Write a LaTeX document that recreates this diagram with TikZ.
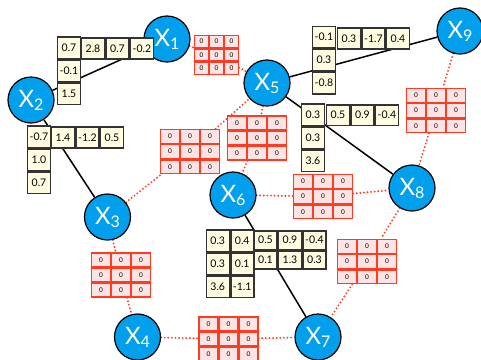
\documentclass[tikz,border=0pt]{standalone}
\usepackage{fontspec}
\setmainfont{Lato}
\usetikzlibrary{matrix,backgrounds}

\definecolor{nodeblue}{HTML}{02A0EC}
\definecolor{cptfill}{HTML}{FFFCE1}
\definecolor{cptline}{HTML}{333333}
\definecolor{msgred}{HTML}{FF3B22}
\definecolor{msgfill}{HTML}{FDE4E4}

\newcommand\varlabel[1]{{\fontsize{24}{24}\selectfont X}\raisebox{-3pt}{\fontsize{16}{16}\selectfont #1}}

\tikzset{
  var/.style={circle, draw=black, line width=1.2pt, fill=nodeblue,
    minimum size=46pt, inner sep=0pt, text=white},
  cpt/.style={matrix of nodes, inner sep=0pt, outer sep=0pt,
    column sep=0pt, row sep=0pt,
    nodes={draw=cptline, line width=1.5pt, fill=cptfill,
      minimum width=23pt, minimum height=21.5pt, inner sep=0pt, outer sep=0pt,
      font=\fontsize{10.5}{10.5}\selectfont, anchor=center}},
  msg/.style={matrix of nodes, inner sep=0pt, outer sep=0pt,
    column sep=0pt, row sep=0pt,
    nodes={draw=msgred, line width=1.4pt, fill=msgfill,
      minimum width=18.7pt, minimum height=13.8pt, inner sep=0pt, outer sep=0pt,
      font=\fontsize{6.5}{6.5}\selectfont, anchor=center}},
  msgsmall/.style={msg, nodes={minimum width=13.7pt, minimum height=12pt}},
  link/.style={line width=1.5pt, black},
  dotlink/.style={msgred, line width=2.1pt, line cap=round, dash pattern=on 0pt off 3.6pt},
}

\begin{document}
\begin{tikzpicture}[x=1pt, y=-1pt]
\useasboundingbox (0,0) rectangle (481,359);
\clip (0,0) rectangle (481,359);

% variables
\node[var] (x1) at (167,39)    {\varlabel{1}};
\node[var] (x2) at (31,100)    {\varlabel{2}};
\node[var] (x3) at (107.5,217) {\varlabel{3}};
\node[var] (x4) at (137.5,337) {\varlabel{4}};
\node[var] (x5) at (267,83)    {\varlabel{5}};
\node[var] (x6) at (233,195)   {\varlabel{6}};
\node[var] (x7) at (318,337)   {\varlabel{7}};
\node[var] (x8) at (412,188)   {\varlabel{8}};
\node[var] (x9) at (460,31)    {\varlabel{9}};

% conditional probability tables (cream)
\matrix (c12col) at (69,70.5) [cpt] { 0.7 \\ -0.1 \\ 1.5 \\ };
\matrix (c12row) at (117.5,48.5) [cpt, nodes={minimum height=21pt}] { 2.8 & 0.7 & -0.2 \\ };
\matrix (c23col) at (39,159.5) [cpt] { -0.7 \\ 1.0 \\ 0.7 \\ };
\matrix (c23row) at (87.5,137.5) [cpt, nodes={minimum height=21pt}] { 1.4 & -1.2 & 0.5 \\ };
\matrix (c59col) at (324,60) [cpt] { -0.1 \\ 0.3 \\ -0.8 \\ };
\matrix (c59row) at (373.5,38.5) [cpt, nodes={minimum height=21pt}] { 0.3 & -1.7 & 0.4 \\ };
\matrix (c58col) at (313,137.5) [cpt] { 0.3 \\ 0.3 \\ 3.6 \\ };
\matrix (c58row) at (362.5,115) [cpt, nodes={minimum height=20.5pt}] { 0.5 & 0.9 & -0.4 \\ };
\matrix (c67a) at (230,263.5) [cpt] { 0.3 & 0.4 \\ 0.3 & 0.1 \\ 3.6 & -1.1 \\ };
\matrix (c67b) at (290,250) [cpt, nodes={minimum height=18.3pt}] { 0.5 & 0.9 & -0.4 \\ 0.1 & 1.3 & 0.3 \\ };

% message tables (red)
\matrix (f15) at (216.5,55) [msgsmall] { 0 & 0 & 0 \\ 0 & 0 & 0 \\ 0 & 0 & 0 \\ };
\matrix (f35) at (190,151.5) [msg] { 0 & 0 & 0 \\ 0 & 0 & 0 \\ 0 & 0 & 0 \\ };
\matrix (f56) at (257,138) [msg] { 0 & 0 & 0 \\ 0 & 0 & 0 \\ 0 & 0 & 0 \\ };
\matrix (f68) at (323,196.5) [msg] { 0 & 0 & 0 \\ 0 & 0 & 0 \\ 0 & 0 & 0 \\ };
\matrix (f89) at (436,110.5) [msg] { 0 & 0 & 0 \\ 0 & 0 & 0 \\ 0 & 0 & 0 \\ };
\matrix (f78) at (367,261.5) [msg] { 0 & 0 & 0 \\ 0 & 0 & 0 \\ 0 & 0 & 0 \\ };
\matrix (f34) at (121,275) [msg] { 0 & 0 & 0 \\ 0 & 0 & 0 \\ 0 & 0 & 0 \\ };
\matrix (f47) at (228.5,339) [msg] { 0 & 0 & 0 \\ 0 & 0 & 0 \\ 0 & 0 & 0 \\ };

% edges behind everything
\begin{scope}[on background layer]
  \draw[link] (x1) -- (x2);
  \draw[link] (x2) -- (x3);
  \draw[link] (x5) -- (x9);
  \draw[link] (x5) -- (x8);
  \draw[link] (x6) -- (x7);
  \draw[dotlink] (x1) -- (f15) -- (x5);
  \draw[dotlink] (x3) -- (f35) -- (x5);
  \draw[dotlink] (x5) -- (f56) -- (x6);
  \draw[dotlink] (x6) -- (f68) -- (x8);
  \draw[dotlink] (x9) -- (f89) -- (x8);
  \draw[dotlink] (x8) -- (f78) -- (x7);
  \draw[dotlink] (x3) -- (f34) -- (x4);
  \draw[dotlink] (x4) -- (f47) -- (x7);
\end{scope}
\end{tikzpicture}
\end{document}
